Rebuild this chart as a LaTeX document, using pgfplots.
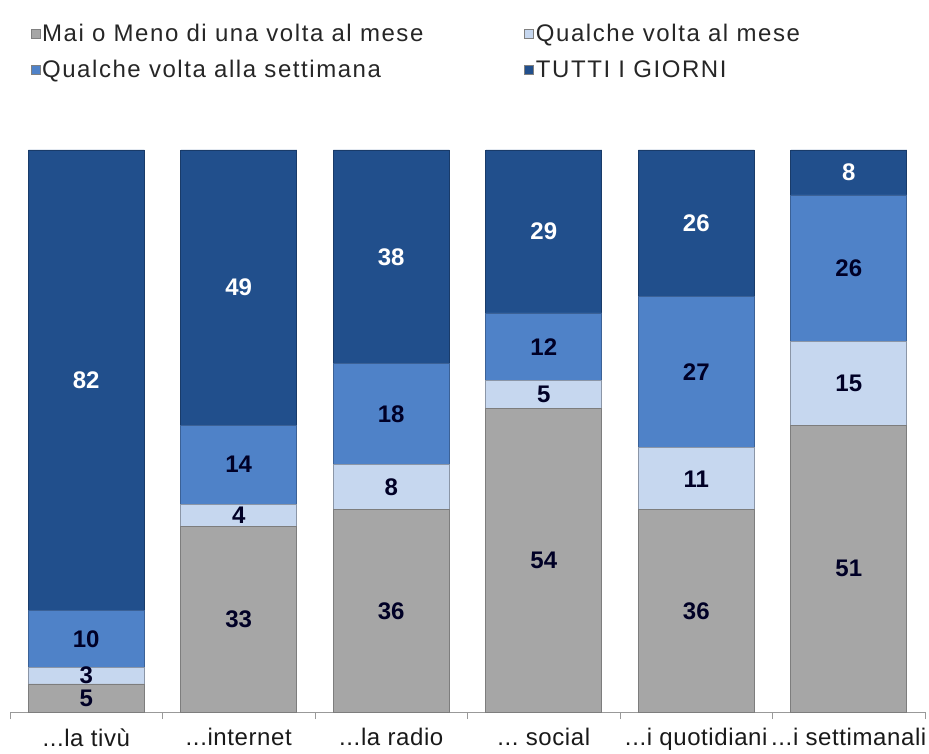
\documentclass[border=0pt]{standalone}
\usepackage{fontspec}
\setmainfont{Liberation Sans}
\usepackage{pgfplots}
\pgfplotsset{compat=1.18}
\definecolor{cGrey}{HTML}{A6A6A6}
\definecolor{cLight}{HTML}{C6D7EF}
\definecolor{cMid}{HTML}{4F82C8}
\definecolor{cDark}{HTML}{214F8C}
\newcommand{\lfont}{\fontsize{24}{28}\selectfont\addfontfeature{LetterSpace=6.5}}
\newcommand{\tfont}{\fontsize{24}{28}\selectfont\addfontfeature{LetterSpace=2.5}}
\newcommand{\ddd}{.{}.{}.}
\begin{document}
\begin{tikzpicture}
\path[use as bounding box] (0,0) rectangle (929pt,753pt);
\begin{axis}[
  at={(10pt,41pt)}, anchor=south west,
  scale only axis, width=915pt, height=562pt,
  ybar stacked, bar width=116pt,
  xmin=-0.5, xmax=5.5, ymin=0, ymax=100,
  hide y axis, axis x line*=bottom,
  x axis line style={draw=gray!80, line width=1pt},
  xtick={0,...,5},
  xticklabels={{\ddd la tivù},{\ddd internet},{\ddd la radio},{\ddd\ social},{\ddd i quotidiani},{\ddd i settimanali}},
  major tick length=0pt,
  minor xtick={-0.5,0.5,...,5.5},
  minor tick length=7pt, tick align=outside,
  minor tick style={draw=gray!80, line width=1pt},
  xticklabel style={font=\tfont, text=black!90, yshift=-13pt},
  clip=false,
  /pgf/number format/assume math mode=true,
  nodes near coords,
  every node near coord/.append style={anchor=center, font=\bfseries\fontsize{24}{24}\selectfont, text=black!85!blue},
  legend style={at={(axis description cs:0.019,1.231)}, anchor=north west, draw=none, fill=none, legend columns=2,
    font=\lfont, row sep=13pt, text=black!85,
    /tikz/every even column/.append style={column sep=99pt}},
  legend cell align=left,
  legend image code/.code={\draw[#1, draw=gray, line width=0.5pt] (0pt,-4.5pt) rectangle (9pt,4.5pt);},
]
\addplot[fill=cGrey, draw=cGrey!75!black, line width=0.8pt] table[row sep=\\] {x y\\ 0 5\\ 1 33\\ 2 36\\ 3 54\\ 4 36\\ 5 51\\};
\addplot[fill=cLight, draw=cLight!70!black, line width=0.8pt] table[row sep=\\] {x y\\ 0 3\\ 1 4\\ 2 8\\ 3 5\\ 4 11\\ 5 15\\};
\addplot[fill=cMid, draw=cMid!75!black, line width=0.8pt] table[row sep=\\] {x y\\ 0 10\\ 1 14\\ 2 18\\ 3 12\\ 4 27\\ 5 26\\};
\addplot[fill=cDark, draw=cDark!75!black, line width=0.8pt, every node near coord/.append style={text=white}] table[row sep=\\] {x y\\ 0 82\\ 1 49\\ 2 38\\ 3 29\\ 4 26\\ 5 8\\};
\legend{Mai o Meno di una volta al mese, Qualche volta al mese, Qualche volta alla settimana, TUTTI I GIORNI}
\end{axis}
\end{tikzpicture}
\end{document}
